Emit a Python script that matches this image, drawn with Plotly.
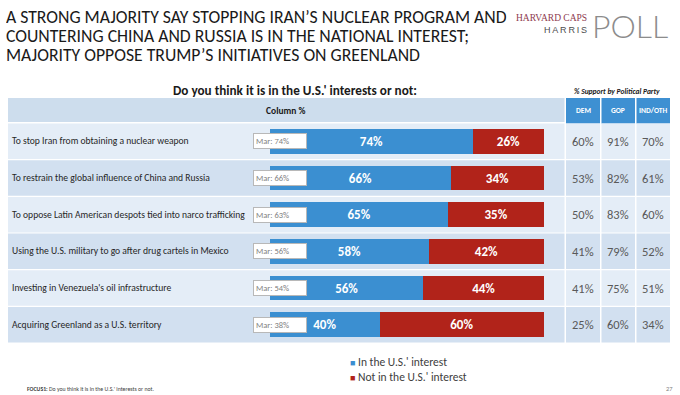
import plotly.graph_objects as go

W, H = 680, 395

# ---------------- data ----------------
items = [
    "To stop Iran from obtaining a nuclear weapon",
    "To restrain the global influence of China and Russia",
    "To oppose Latin American despots tied into narco trafficking",
    "Using the U.S. military to go after drug cartels in Mexico",
    "Investing in Venezuela's oil infrastructure",
    "Acquiring Greenland as a U.S. territory",
]
in_interest = [74, 66, 65, 58, 56, 40]
not_interest = [26, 34, 35, 42, 44, 60]
march = [74, 66, 63, 56, 54, 38]
dem = [60, 53, 50, 41, 41, 25]
gop = [91, 82, 83, 79, 75, 60]
ind = [70, 61, 60, 52, 51, 34]
party_labels = ["DEM", "GOP", "IND/OTH"]
series_names = ["In the U.S.' interest", "Not in the U.S.' interest"]

title_lines = [
    "A STRONG MAJORITY SAY STOPPING IRAN\u2019S NUCLEAR PROGRAM AND",
    "COUNTERING CHINA AND RUSSIA IS IN THE NATIONAL INTEREST;",
    "MAJORITY OPPOSE TRUMP\u2019S INITIATIVES ON GREENLAND",
]
question = "Do you think it is in the U.S.' interests or not:"

# ---------------- style ----------------
FONT = "Carlito, Lato, sans-serif"
BLUE = "#3b8fd1"
RED = "#b1231a"
HDR_BLUE = "#3e90d2"
BAND_LIGHT = "#e4edf7"
BAND_DARK = "#d2e0f0"
HDR_BAND = "#cddded"


def px(x):
    return x / W


def py(y):
    return 1 - y / H


ROW_TOP, ROW_BOT = 123, 343

fig = go.Figure()
for vals, nm, col in [(in_interest, series_names[0], BLUE), (not_interest, series_names[1], RED)]:
    fig.add_bar(
        y=items, x=vals, orientation="h", name=nm,
        marker=dict(color=col, line=dict(width=0)), width=0.68,
        text=[f"{v}%" for v in vals], textposition="inside",
        insidetextanchor="middle", textangle=0,
        textfont=dict(color="white", size=13, family=FONT, weight="bold"),
        hoverinfo="skip",
    )

shapes = []
annotations = []


def ann(**kw):
    kw.setdefault("showarrow", False)
    kw.setdefault("xanchor", "center")
    kw.setdefault("yanchor", "middle")
    annotations.append(kw)


# header band + party header cells
shapes.append(dict(type="rect", xref="paper", yref="paper", layer="below",
                   x0=px(8), x1=px(564.5), y0=py(122), y1=py(98),
                   fillcolor=HDR_BAND, line=dict(width=0)))
party_cols = [(566, 600), (601.5, 635), (636.5, 670)]
for (a, b), lab in zip(party_cols, party_labels):
    shapes.append(dict(type="rect", xref="paper", yref="paper", layer="below",
                       x0=px(a), x1=px(b), y0=py(123.5), y1=py(98),
                       fillcolor=HDR_BLUE, line=dict(width=0)))
    ann(xref="paper", yref="paper", x=px((a + b) / 2), y=py(111),
        text=f"<b>{lab}</b>", font=dict(family=FONT, size=7.5, color="white"))

# row bands
g = 0.6 / ((ROW_BOT - ROW_TOP) / len(items))
for i in range(len(items)):
    col = BAND_LIGHT if i % 2 == 0 else BAND_DARK
    shapes.append(dict(type="rect", xref="paper", yref="y", layer="below",
                       x0=px(8), x1=px(564.5), y0=i - 0.5 + g, y1=i + 0.5 - g,
                       fillcolor=col, line=dict(width=0)))
    for a, b in party_cols:
        shapes.append(dict(type="rect", xref="paper", yref="y", layer="below",
                           x0=px(a), x1=px(b), y0=i - 0.5 + g, y1=i + 0.5 - g,
                           fillcolor=col, line=dict(width=0)))

# row labels, march boxes, party values
for i, it in enumerate(items):
    ann(xref="paper", yref="y", x=px(10), y=it, xanchor="left", text=it,
        font=dict(family=FONT, size=9.6, color="#262626"))
    ann(xref="paper", yref="y", x=px(253), y=it, xanchor="left",
        text=f"Mar: {march[i]}%", align="left",
        width=48, height=10, bgcolor="white",
        bordercolor="#b8b8b8", borderwidth=1, borderpad=2,
        font=dict(family=FONT, size=8.5, color="#7f7f7f"))
    for (a, b), vals in zip(party_cols, [dem, gop, ind]):
        ann(xref="paper", yref="y", x=px((a + b) / 2), y=it, text=f"{vals[i]}%",
            font=dict(family=FONT, size=12.5, color="#595959"))

# titles
for k, line in enumerate(title_lines):
    ann(xref="paper", yref="paper", x=px(4), y=py(17 + 19 * k), xanchor="left",
        text=line, height=18, font=dict(family=FONT, size=17.7, color="#1a1a1a"))
ann(xref="paper", yref="paper", x=px(295), y=py(90), text=f"<b>{question}</b>",
    font=dict(family=FONT, size=13.2, color="#1a1a1a"))
ann(xref="paper", yref="paper", x=px(617), y=py(91),
    text="<b><i>% Support by Political Party</i></b>",
    font=dict(family=FONT, size=7.5, color="#1a1a1a"))
ann(xref="paper", yref="paper", x=px(286), y=py(111), text="<b>Column %</b>",
    font=dict(family=FONT, size=9.5, color="#1a1a1a"))

# logo
ann(xref="paper", yref="paper", x=px(589), y=py(18), xanchor="right", text="HARVARD CAPS",
    font=dict(family="Liberation Serif, DejaVu Serif, serif", size=9.5, color="#8e3a4e"))
ann(xref="paper", yref="paper", x=px(589), y=py(30), xanchor="right",
    text="H\u2009A\u2009R\u2009R\u2009I\u2009S",
    font=dict(family="Liberation Sans, sans-serif", size=9, color="#4d4d4d"))
ann(xref="paper", yref="paper", x=px(590), y=py(25), xanchor="left", text="POLL",
    font=dict(family="Lato, Open Sans, sans-serif", size=32, color="#8c8c8c", weight=300))

# legend
for k, (nm, c) in enumerate(zip(series_names, [BLUE, RED])):
    ann(xref="paper", yref="paper", x=px(348), y=py(362 + 15 * k), xanchor="left",
        text=f"<span style='color:{c};font-size:9px'>\u25a0</span> {nm}",
        font=dict(family=FONT, size=11.5, color="#404040"))

# footer
ann(xref="paper", yref="paper", x=px(25), y=py(389), xanchor="left",
    text=f"<b>FOCUS1:</b> {question[:-1]}.",
    font=dict(family=FONT, size=5.8, color="#404040"))
ann(xref="paper", yref="paper", x=px(675), y=py(389), xanchor="right", text="27",
    font=dict(family=FONT, size=6.5, color="#7f7f7f"))

fig.update_layout(
    width=W, height=H, margin=dict(l=0, r=0, t=0, b=0),
    paper_bgcolor="white", plot_bgcolor="rgba(0,0,0,0)",
    barmode="stack", showlegend=False,
    xaxis=dict(domain=[px(270), px(544)], range=[0, 100], visible=False, fixedrange=True),
    yaxis=dict(domain=[py(ROW_BOT), py(ROW_TOP)], type="category", categoryarray=items,
               categoryorder="array", range=[len(items) - 0.5, -0.5], visible=False),
    shapes=shapes, annotations=annotations,
)
fig.write_html("out.html", config={"displayModeBar": False},
               post_script="document.body.style.margin='0px';")
